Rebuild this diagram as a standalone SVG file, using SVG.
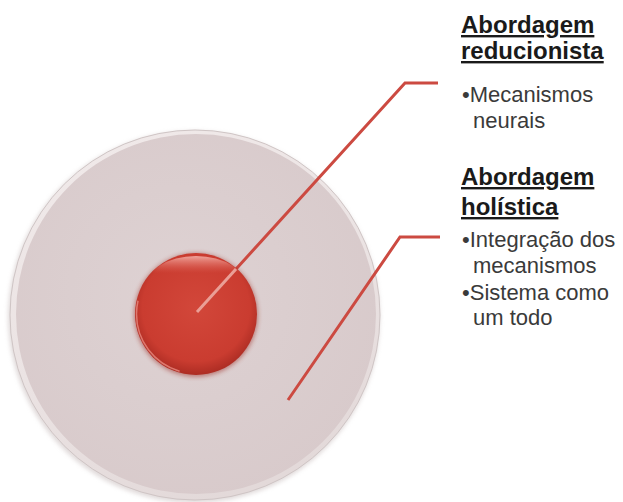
<svg xmlns="http://www.w3.org/2000/svg" width="623" height="502" viewBox="0 0 623 502">
<defs>
<radialGradient id="bigFill" cx="0.45" cy="0.45" r="0.6">
<stop offset="0" stop-color="#ded2d3"/>
<stop offset="1" stop-color="#d8cacb"/>
</radialGradient>
<linearGradient id="rim" x1="0.3" y1="0" x2="0.7" y2="1">
<stop offset="0" stop-color="#f0e9e9"/>
<stop offset="0.5" stop-color="#ebe3e3"/>
<stop offset="1" stop-color="#e2d8d8"/>
</linearGradient>
<radialGradient id="redFill" cx="0.5" cy="0.45" r="0.55">
<stop offset="0" stop-color="#d2473a"/>
<stop offset="0.8" stop-color="#ca3c30"/>
<stop offset="1" stop-color="#ac2c23"/>
</radialGradient>
<linearGradient id="redHi" x1="0" y1="0" x2="0" y2="1">
<stop offset="0" stop-color="#f4b0a8" stop-opacity="0.9"/>
<stop offset="0.25" stop-color="#e06a5e" stop-opacity="0"/>
</linearGradient>
<filter id="sh" x="-10%" y="-10%" width="120%" height="120%">
<feGaussianBlur stdDeviation="2"/>
</filter>
<style>
.con{fill:none;stroke:#cc4a41;stroke-width:3;stroke-linejoin:miter}
.head{font-family:"Liberation Sans",Arial,sans-serif;font-weight:bold;font-size:24px;fill:#1a1a1a;text-decoration:underline}
.body{font-family:"Liberation Sans",Arial,sans-serif;font-size:22px;fill:#3a3a3a}
</style>
</defs>
<rect width="623" height="502" fill="#ffffff"/>
<g id="outer">
<circle cx="194" cy="317" r="186" fill="#c4b8b8" filter="url(#sh)" opacity="0.5"/>
<circle cx="195" cy="315" r="185" fill="url(#rim)" stroke="#cfc5c5" stroke-width="1"/>
<circle cx="196" cy="314" r="180" fill="url(#bigFill)"/>
</g>
<g id="connectors">
<polyline class="con" points="197,312 405,83 438,83"/>
<polyline class="con" points="288,400 400,237 440,237"/>
</g>
<g id="inner">
<circle cx="196" cy="315" r="62" fill="#9c2a22" filter="url(#sh)" opacity="0.5"/>
<circle cx="196" cy="314" r="61" fill="url(#redFill)"/>
<ellipse cx="196" cy="290" rx="52" ry="34" fill="url(#redHi)"/>
<circle cx="196" cy="314" r="59.5" fill="none" stroke="#e98a80" stroke-width="1.5" stroke-dasharray="90 284" stroke-dashoffset="-110" opacity="0.8"/>
<line x1="197" y1="312" x2="236" y2="269" stroke="#ea9f96" stroke-width="3"/>
</g>
<g id="reducionista">
<text class="head" x="461" y="33">Abordagem</text>
<text class="head" x="461" y="59">reducionista</text>
<text class="body" x="462" y="102">•Mecanismos</text>
<text class="body" x="473" y="128">neurais</text>
</g>
<g id="holistica">
<text class="head" x="461" y="185">Abordagem</text>
<text class="head" x="461" y="215">holística</text>
<text class="body" x="462" y="247">•Integração dos</text>
<text class="body" x="473" y="273">mecanismos</text>
<text class="body" x="462" y="300">•Sistema como</text>
<text class="body" x="473" y="325">um todo</text>
</g>
</svg>
